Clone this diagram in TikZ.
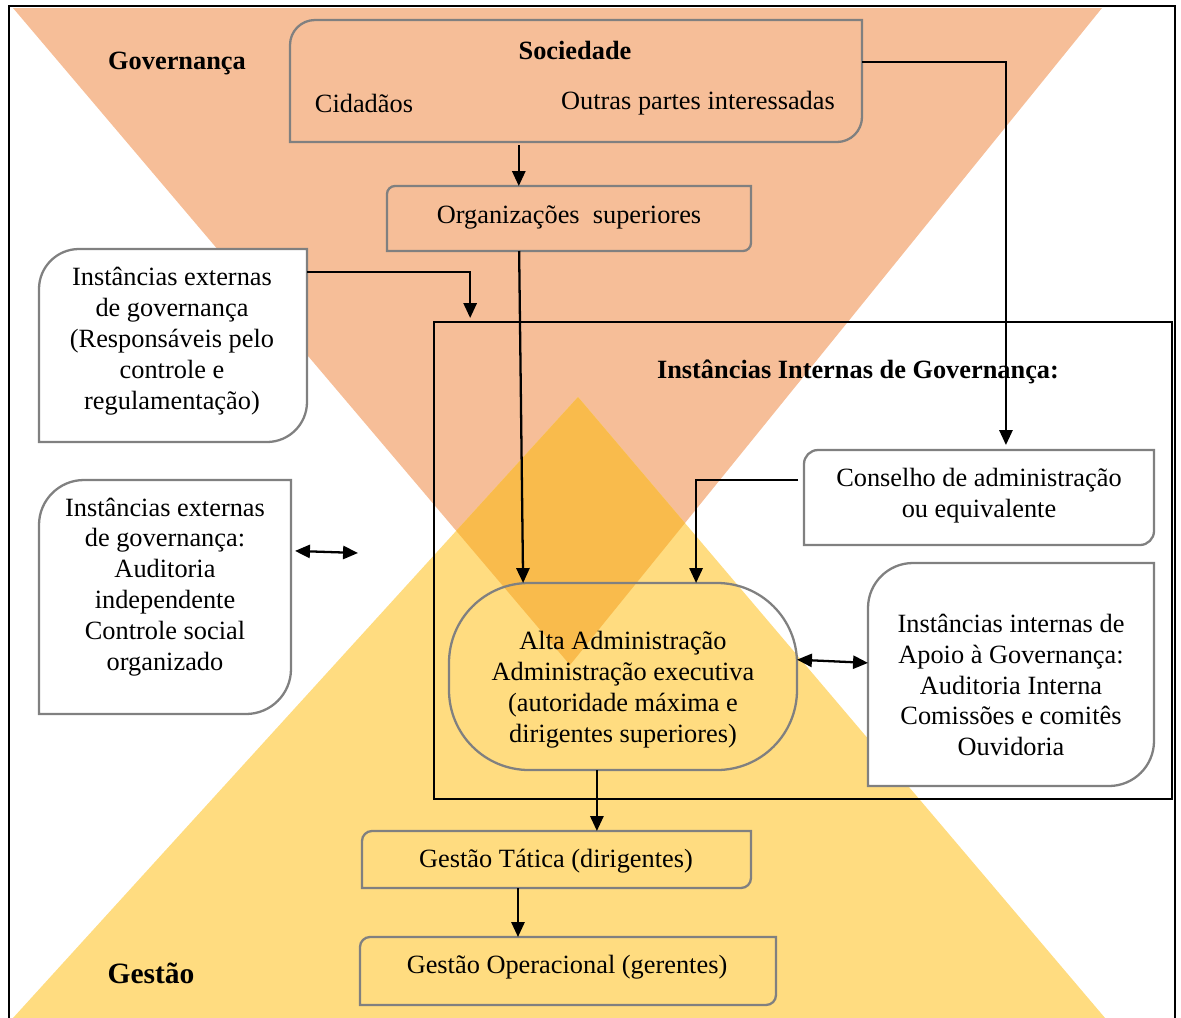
\documentclass[tikz,border=0pt]{standalone}
\usepackage{fontspec}
\setmainfont{Liberation Serif}
\usetikzlibrary{arrows.meta,calc,fit}

\definecolor{govorange}{RGB}{246,190,152}
\definecolor{gestyellow}{RGB}{255,220,128}
\definecolor{overlapcol}{RGB}{249,187,76}
\definecolor{boxgray}{RGB}{128,128,128}

\tikzset{
  boxline/.style={draw=boxgray, line width=1.3pt},
  boxfit/.style={inner sep=0pt, outer sep=0pt},
  txt/.style={align=center, font=\fontsize{15}{17.6}\selectfont},
  headtxt/.style={align=center, font=\fontsize{15}{17.6}\selectfont\bfseries},
  arr/.style={draw=black, line width=1.3pt, -{Triangle[length=8.5pt,width=7.5pt]}},
  dblarr/.style={draw=black, line width=1.3pt, {Triangle[length=8.5pt,width=7.5pt]}-{Triangle[length=8.5pt,width=7.5pt]}},
}

% box with rounded top-left and bottom-right corners
\newcommand\diagframe[3][]{%
  \draw[boxline,#1] ([xshift=#3]#2.north west) -- (#2.north east)
    -- ([yshift=#3]#2.south east) arc[start angle=0,end angle=-90,radius=#3]
    -- (#2.south west) -- ([yshift=-#3]#2.north west)
    arc[start angle=180,end angle=90,radius=#3] -- cycle;}

\begin{document}
\begin{tikzpicture}[x=0.02cm,y=-0.02cm]
  \useasboundingbox (0,0) rectangle (1181,1018);

  % background triangles
  \fill[govorange] (13,8) -- (1102,8) -- (570,665) -- cycle;
  \fill[gestyellow] (578,397) -- (6.6,1025) -- (1111,1025) -- cycle;
  \begin{scope}
    \clip (13,8) -- (1102,8) -- (570,665) -- cycle;
    \fill[overlapcol] (578,397) -- (6.6,1025) -- (1111,1025) -- cycle;
  \end{scope}

  % outer frame
  \draw[line width=1.2pt] (9,6) rectangle (1175,1030);

  % boxes
  \node[boxfit, fit={(434,322)(1172,799)}, draw=black, line width=0.8pt] (internas) {};
  \node[boxfit, fit={(290,20)(862,142)}] (soc) {};
  \node[boxfit, fit={(387,186)(751,251)}] (org) {};
  \node[boxfit, fit={(39,249)(307,442)}] (ext1) {};
  \node[boxfit, fit={(39,480)(291,714)}] (ext2) {};
  \node[boxfit, fit={(804,450)(1154,545)}] (cons) {};
  \node[boxfit, fit={(868,563)(1154,786)}] (apoio) {};
  \node[boxfit, fit={(449,583)(797,770)}, boxline, rounded corners=1.6cm] (alta) {};
  \node[boxfit, fit={(362,831)(751,888)}] (gt) {};
  \node[boxfit, fit={(360,937)(776,1005)}] (go) {};

  \diagframe{soc}{0.5cm}
  \diagframe{org}{0.16cm}
  \diagframe[fill=white]{ext1}{0.8cm}
  \diagframe[fill=white]{ext2}{0.9cm}
  \diagframe[fill=white]{cons}{0.28cm}
  \diagframe[fill=white]{apoio}{0.9cm}
  \diagframe{gt}{0.2cm}
  \diagframe{go}{0.2cm}

  % texts
  \node[headtxt] (govlabel) at (177,63) {Governança};
  \node[headtxt, font=\fontsize{16.8}{19}\selectfont\bfseries] (gestlabel) at (151,973) {Gestão};
  \node[headtxt] (intlabel) at (858,372) {Instâncias Internas de Governança:};
  \node[headtxt] (soctitle) at (575,50) {Sociedade};
  \node[txt] (cidtxt) at (364,103) {Cidadãos};
  \node[txt] (outtxt) at (698,103) {Outras partes interessadas};
  \node[txt] (orgtxt) at (569,217) {Organizações\ \ superiores};
  \node[txt] (ext1txt) at (172,341) {Instâncias externas\\de governança\\(Responsáveis pelo\\controle e\\regulamentação)};
  \node[txt] (ext2txt) at (165,587) {Instâncias externas\\de governança:\\Auditoria\\independente\\Controle social\\organizado};
  \node[txt] (constxt) at (979,496) {Conselho de administração\\ou equivalente};
  \node[txt] (apoiotxt) at (1011,685) {Instâncias internas de\\Apoio à Governança:\\Auditoria Interna\\Comissões e comitês\\Ouvidoria};
  \node[txt] (altatxt) at (623,690) {Alta Administração\\Administração executiva\\(autoridade máxima e\\dirigentes superiores)};
  \node[txt] (gttxt) at (556,861) {Gestão Tática (dirigentes)};
  \node[txt] (gotxt) at (567,967) {Gestão Operacional (gerentes)};

  % connectors
  \coordinate (socout) at ($(soc.south west)!0.4!(soc.south east)$);
  \draw[arr] ([yshift=-0.06cm]socout) -- (socout |- org.north);
  \coordinate (socright) at ($(soc.north east)!0.344!(soc.south east)$);
  \coordinate (consin) at ($(cons.north west)!0.577!(cons.north east)$);
  \draw[arr, shorten >=0.1cm] (socright) -| (consin);
  \draw[arr] ($(org.south west)!0.363!(org.south east)$) -- ($(alta.north west)!0.213!(alta.north east)$);
  \coordinate (extout) at ($(ext1.north east)!0.119!(ext1.south east)$);
  \coordinate (intin) at ($(internas.north west)!0.049!(internas.north east)$);
  \draw[arr, shorten >=0.08cm] (extout) -| (intin);
  \coordinate (ext2out) at ($(ext2.north east)!0.303!(ext2.south east)$);
  \coordinate (ext2free) at (358,553);
  \draw[dblarr] ([xshift=0.08cm]ext2out) -- (ext2free);
  \coordinate (consout) at ($(cons.north west)!0.316!(cons.south west)$);
  \draw[arr] ([xshift=-0.12cm]consout) -| ($(alta.north west)!0.71!(alta.north east)$);
  \draw[dblarr] ($(alta.north east)!0.41!(alta.south east)$) -- ($(apoio.north west)!0.448!(apoio.south west)$);
  \coordinate (altaout) at ($(alta.south west)!0.425!(alta.south east)$);
  \draw[arr] (altaout) -- (altaout |- gt.north);
  \coordinate (gtout) at ($(gt.south west)!0.401!(gt.south east)$);
  \draw[arr] (gtout) -- (gtout |- go.north);
\end{tikzpicture}
\end{document}
